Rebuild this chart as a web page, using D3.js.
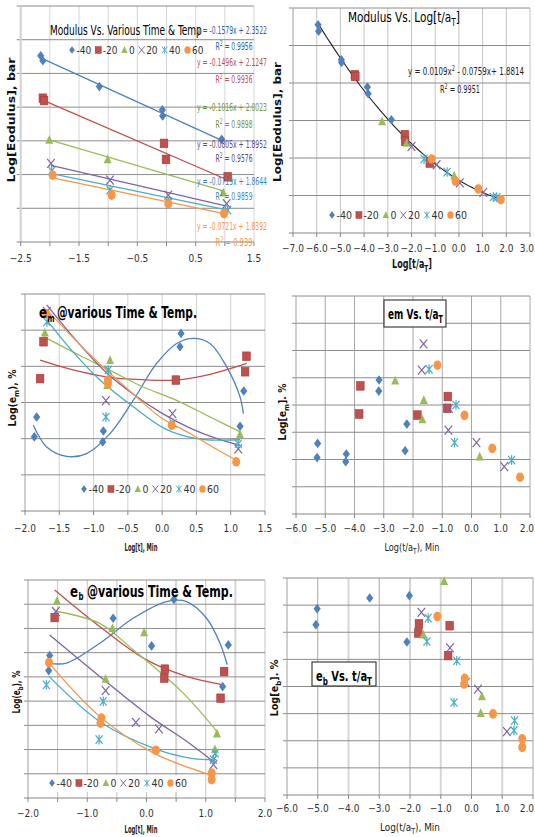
<!DOCTYPE html>
<html><head><meta charset="utf-8">
<script src="https://cdn.jsdelivr.net/npm/d3@7"></script>
<style>body{margin:0;background:#fff} svg{display:block}</style>
</head><body>
<svg id="c" width="535" height="837"></svg>
<script>
const FONT = "'Liberation Sans Narrow','Arial Narrow','DejaVu Sans Condensed',sans-serif";
const seriesLabels = ["-40","-20","0","20","40","60"];
const seriesColors = ["#4F81BD","#C0504D","#9BBB59","#8064A2","#4BACC6","#F79646"];
const seriesMarkers = ["diamond","square","triangle","x","star","circle"];
const eqColors = ["#2F5F9F","#C0504D","#76923C","#604A7B","#3F7FC4","#F79646"];

// Panel 1: Log[Modulus] vs Log[t] per temperature
const modT_m40 = [[-2.157,2.705],[-2.12,2.675],[-1.151,2.522],[-0.071,2.384],[-0.066,2.348],[0.946,2.209]];
const modT_m20 = [[-2.12,2.453],[-2.10,2.439],[-0.043,2.185],[-0.009,2.09],[1.049,1.987]];
const modT_0   = [[-2.009,2.205],[-1.009,2.09],[0.974,1.892]];
const modT_20  = [[-1.98,2.066],[-0.969,1.967],[0.031,1.878],[1.031,1.828]];
const modT_40  = [[-1.969,2.022],[-0.969,1.908],[0.031,1.838],[1.049,1.789]];
const modT_60  = [[-1.951,1.997],[-0.94,1.878],[0.031,1.828],[0.986,1.769]];
const linSlopes = [-0.1579,-0.1496,-0.1016,-0.0805,-0.0719,-0.0721];
const linIntercepts = [2.3522,2.1247,2.0023,1.8952,1.8644,1.8392];
const linR2 = ["0.9956","0.9936","0.9898","0.9576","0.9859","0.939"];

// Panel 2: Log[Modulus] vs Log[t/aT]
const modS_m40 = [[-5.94,2.711],[-5.92,2.676],[-4.96,2.524],[-4.95,2.51],[-3.86,2.379],[-3.83,2.343],[-2.85,2.204]];
const modS_m20 = [[-4.39,2.444],[-4.37,2.435],[-2.28,2.124],[-2.27,2.089],[-1.23,1.973]];
const modS_0   = [[-3.24,2.195],[-2.2,2.08],[-0.2,1.906]];
const modS_20  = [[-2.0,2.062],[-0.94,1.964],[0.04,1.867],[1.03,1.817]];
const modS_40  = [[-1.47,1.995],[-0.5,1.925],[1.45,1.792],[1.6,1.79]];
const modS_60  = [[-1.15,1.995],[-0.14,1.876],[0.82,1.835],[1.77,1.778]];
const quadCoef = [0.0109,-0.0759,1.8814];

// Panel 3: Log(em) vs Log[t] (y in grid units)
const emT_m40 = [[-1.864,2.05],[-1.83,2.60],[-0.857,2.21],[-0.867,1.91],[0.26,4.54],[0.275,4.91],[1.136,2.34],[1.19,3.32]];
const emT_m20 = [[-1.78,3.66],[-1.73,4.68],[0.20,3.62],[1.23,4.28],[1.21,3.85]];
const emT_0   = [[-1.71,4.93],[-0.76,4.17],[-0.80,3.48],[1.135,2.12]];
const emT_20  = [[-1.68,5.51],[-0.82,3.05],[0.15,2.69],[1.11,1.72]];
const emT_40  = [[-1.68,5.23],[-0.82,2.6],[-0.785,3.9],[0.16,2.42],[1.11,1.86]];
const emT_60  = [[-1.69,5.46],[-0.79,3.62],[-0.79,3.52],[0.14,2.37],[1.08,1.36]];
const emTrend_m40 = [[-1.878,2.371],[-1.684,1.771],[-1.392,1.512],[-1.101,1.586],[-0.760,2.14],[-0.420,3.064],[-0.080,4.08],[0.212,4.633],[0.455,4.772],[0.698,4.633],[0.941,3.987],[1.136,3.156],[1.184,2.694]];
const emTrend_m20 = [[-1.78,4.17],[-1.3,3.9],[-0.81,3.71],[-0.3,3.63],[0.2,3.62],[0.7,3.78],[1.233,4.08]];
const emTrend_0   = [[-1.73,4.82],[-1.2,4.3],[-0.76,3.89],[-0.3,3.45],[0.21,3.06],[0.7,2.6],[1.136,2.19]];
const emTrend_20  = [[-1.684,5.70],[-1.2,4.6],[-0.8,3.8],[-0.4,3.2],[0.0,2.7],[0.4,2.3],[0.8,2.0],[1.136,1.82]];
const emTrend_40  = [[-1.68,5.28],[-1.3,4.4],[-0.906,3.62],[-0.42,2.88],[0.066,2.25],[0.55,1.99],[1.136,1.97]];
const emTrend_60  = [[-1.68,5.56],[-1.2,4.6],[-0.81,3.89],[-0.4,3.2],[-0.03,2.6],[0.4,2.15],[0.8,1.7],[1.087,1.40]];

// Panel 4: Log[em] vs Log(t/aT)
const emS_m40 = [[-5.26,2.59],[-5.28,2.07],[-4.28,2.2],[-4.30,1.92],[-3.16,4.92],[-3.17,4.51],[-2.21,3.30],[-2.27,2.32]];
const emS_m20 = [[-3.80,4.70],[-3.84,3.67],[-1.85,3.63],[-0.81,4.31],[-0.83,3.88]];
const emS_0   = [[-2.61,4.89],[-1.63,4.18],[-1.68,3.47],[0.28,2.10]];
const emS_20  = [[-1.64,6.24],[-1.70,5.28],[-0.77,3.88],[-0.79,3.08],[0.17,2.62],[1.12,1.74]];
const emS_40  = [[-1.45,5.31],[-0.53,4.0],[-0.58,2.62],[1.37,1.98]];
const emS_60  = [[-1.165,5.46],[-0.24,3.62],[0.71,2.41],[1.66,1.35]];

// Panel 5: Log(eb) vs Log[t]
const ebT_m40 = [[-1.634,5.88],[-1.65,5.26],[-0.563,7.42],[0.085,6.28],[0.462,8.20],[1.285,4.60],[1.38,6.32]];
const ebT_m20 = [[-1.55,7.45],[0.31,5.32],[0.30,4.95],[1.31,5.22],[1.25,4.12]];
const ebT_0   = [[-1.51,8.13],[-0.575,7.01],[-0.04,6.83],[-0.69,4.91],[1.19,2.65],[1.155,2.0]];
const ebT_20  = [[-1.53,7.70],[-0.69,4.43],[-0.18,3.12],[0.21,2.85],[1.13,1.38]];
const ebT_40  = [[-1.69,4.67],[-0.73,3.99],[-0.80,2.41],[1.13,1.58],[1.16,1.85]];
const ebT_60  = [[-1.645,5.59],[-0.76,3.30],[-0.777,3.09],[0.16,1.97],[1.10,1.03],[1.10,0.76]];
const ebTrend_m40 = [[-1.66,5.57],[-1.352,5.57],[-0.789,6.39],[-0.225,7.42],[0.338,8.11],[0.676,8.11],[1.014,7.42],[1.24,6.39],[1.363,5.50]];
const ebTrend_m20 = [[-1.55,8.59],[-0.79,7.08],[0.0,5.70],[0.676,5.02],[1.296,4.67]];
const ebTrend_0   = [[-1.51,7.70],[-0.79,7.21],[-0.225,6.12],[0.62,4.33],[1.21,2.68]];
const ebTrend_20  = [[-1.634,6.73],[-0.79,5.02],[0.056,3.37],[0.676,2.34],[1.155,1.45]];
const ebTrend_40  = [[-1.645,5.02],[-0.79,3.16],[0.113,2.06],[0.73,1.65],[1.18,1.58]];
const ebTrend_60  = [[-1.645,5.57],[-0.79,3.37],[0.113,1.86],[0.73,1.24],[1.07,0.96]];

// Panel 6: Log[eb] vs Log(t/aT)
const ebS_m40 = [[-5.02,6.87],[-5.06,6.28],[-3.31,7.26],[-2.02,7.35],[-2.10,5.64]];
const ebS_m20 = [[-1.71,6.31],[-1.73,5.97],[-0.71,6.24],[-0.76,5.14]];
const ebS_0   = [[-0.89,7.88],[-1.57,5.91],[0.34,3.63],[0.30,3.02]];
const ebS_20  = [[-1.63,6.73],[-0.70,5.42],[-0.18,4.15],[0.21,3.90],[1.15,2.34]];
const ebS_40  = [[-1.41,6.52],[-1.45,5.66],[-0.48,4.95],[-0.57,3.41],[1.40,2.74],[1.38,2.38]];
const ebS_60  = [[-1.11,6.58],[-0.22,4.30],[-0.24,4.09],[0.70,2.99],[1.65,2.07],[1.65,1.76]];

const svg = d3.select("#c");
svg.append("rect").attr("width",535).attr("height",837).attr("fill","#fff");

function drawMarker(g, type, cx, cy, color, k) {
  const s = g.append("g").attr("transform", `translate(${cx},${cy}) scale(${k})`);
  if (type === "diamond") s.append("path").attr("d","M0,-4.8L3.6,0L0,4.8L-3.6,0Z").attr("fill",color);
  else if (type === "square") s.append("rect").attr("x",-3.8).attr("y",-4.3).attr("width",7.6).attr("height",8.6).attr("fill",color).attr("stroke","#a33a37").attr("stroke-width",0.6);
  else if (type === "triangle") s.append("path").attr("d","M0,-5L4,3.8L-4,3.8Z").attr("fill",color);
  else if (type === "x") s.append("path").attr("d","M-3.8,-4.5L3.8,4.5M-3.8,4.5L3.8,-4.5").attr("stroke",color).attr("stroke-width",1.2).attr("fill","none");
  else if (type === "star") s.append("path").attr("d","M-3.5,-4.2L3.5,4.2M-3.5,4.2L3.5,-4.2M0,-4.8L0,4.8").attr("stroke",color).attr("stroke-width",1.2).attr("fill","none");
  else s.append("ellipse").attr("rx",4).attr("ry",4.8).attr("fill",color);
}

// text with optional sub/superscript parts, horizontally scaled to a target width
function rich(g, x, y, parts, o) {
  const t = g.append("text").attr("x",x).attr("y",y)
    .attr("font-family",FONT).attr("font-size",o.size)
    .attr("font-weight",o.weight||"normal").attr("fill",o.fill||"#000")
    .attr("text-anchor",o.anchor||"start");
  let shift = 0;
  parts.forEach(p => {
    const ts = t.append("tspan").text(p.t);
    const want = p.sub ? o.size*0.3 : (p.sup ? -o.size*0.38 : 0);
    if (want !== shift) { ts.attr("dy", want - shift); shift = want; }
    if (p.sub || p.sup) ts.attr("font-size", o.size*0.72);
    if (p.w) ts.attr("font-weight", p.w);
  });
  let tf = o.rotate ? `rotate(-90,${x},${y})` : "";
  if (o.len) {
    const w = t.node().getComputedTextLength();
    const sx = o.len / w;
    tf += ` translate(${x},${y}) scale(${sx},1) translate(${-x},${-y})`;
  }
  if (tf) t.attr("transform", tf);
  return t;
}

function legend(g, x0, yc, size, k) {
  let cx = x0;
  seriesLabels.forEach((lab,i) => {
    drawMarker(g, seriesMarkers[i], cx, yc, seriesColors[i], k);
    const t = g.append("text").attr("x",cx+4.5).attr("y",yc+3.5).attr("font-size",size)
      .attr("font-family",FONT).attr("fill","#333").text(lab);
    cx = cx + 4.5 + t.node().getComputedTextLength() + 7;
  });
}

function panel(c) {
  const g = svg.append("g");
  const x = d3.scaleLinear().domain(c.xd).range([c.left, c.right]);
  const y = d3.scaleLinear().domain(c.yd).range([c.bottom, c.top]);
  const nx = Math.round((c.xd[1]-c.xd[0])/c.xStep);
  const xt = d3.range(nx+1).map(i => +(c.xd[0]+i*c.xStep).toFixed(4));
  const ny = Math.round((c.yd[1]-c.yd[0])/c.yStep);
  const yt = d3.range(ny+1).map(i => +(c.yd[0]+i*c.yStep).toFixed(4));
  xt.forEach(v => {
    if (v === c.xd[0]) return;
    const light = c.vLight && c.vLight.includes(v);
    g.append("line").attr("x1",x(v)).attr("x2",x(v)).attr("y1",y(c.yd[0])).attr("y2",c.top)
      .attr("stroke", light ? "#d6d6d6" : c.vColor).attr("stroke-width", light ? 2 : 1);
  });
  yt.forEach(v => {
    if (v === c.yd[0]) return;
    g.append("line").attr("x1",c.left-4).attr("x2",c.right).attr("y1",y(v)).attr("y2",y(v))
      .attr("stroke",c.hColor).attr("stroke-width",1);
  });
  g.append("line").attr("x1",c.left).attr("x2",c.left).attr("y1",c.top).attr("y2",c.bottom+0.5)
    .attr("stroke",c.axColor||"#a0a0a0").attr("stroke-width",c.axW||1);
  g.append("line").attr("x1",c.left-4).attr("x2",c.right).attr("y1",c.bottom).attr("y2",c.bottom)
    .attr("stroke","#868686").attr("stroke-width",1);
  xt.forEach(v => {
    g.append("line").attr("x1",x(v)).attr("x2",x(v)).attr("y1",c.bottom).attr("y2",c.bottom+4)
      .attr("stroke","#868686");
    if (c.labelIf(v)) {
      const t = g.append("text").attr("x",x(v)).attr("y",c.labY).attr("text-anchor","middle")
        .attr("font-family",FONT).attr("font-size",10).attr("fill","#333")
        .text(d3.format(".1f")(v));
      const w = t.node().getComputedTextLength();
      if (x(v) + w/2 > 534) t.attr("text-anchor","end").attr("x",534);
    }
  });
  return {g,x,y};
}

function plotSeries(p, sets) {
  sets.forEach((pts,i) => pts.forEach(d => drawMarker(p.g, seriesMarkers[i], p.x(d[0]), p.y(d[1]), seriesColors[i], 1)));
}
function plotCurves(p, sets) {
  const line = d3.line().x(d=>p.x(d[0])).y(d=>p.y(d[1])).curve(d3.curveCatmullRom.alpha(0.5));
  sets.forEach((pts,i) => p.g.append("path").attr("d",line(pts)).attr("fill","none")
    .attr("stroke",seriesColors[i]).attr("stroke-width",1.3));
}
const isMult = (v,s) => Math.abs(v/s - Math.round(v/s)) < 1e-6;

// ---------- Panel 1 ----------
const p1 = panel({left:20.7,right:254,top:6,bottom:242,xd:[-2.5,1.5],yd:[1.6,3.0],xStep:0.5,yStep:0.2,
  vColor:"#d4d4d4",hColor:"#8c8c8c",axColor:"#d0d0d0",axW:2,labY:262,
  labelIf:v=>isMult(v+0.5,1)});
const p1sets = [modT_m40,modT_m20,modT_0,modT_20,modT_40,modT_60];
p1sets.forEach((pts,i)=>{
  const xs = d3.extent(pts,d=>d[0]);
  p1.g.append("path").attr("d",d3.line()(xs.map(v=>[p1.x(v),p1.y(linSlopes[i]*v+linIntercepts[i])])))
    .attr("stroke",seriesColors[i]).attr("stroke-width",1.3).attr("fill","none");
});
plotSeries(p1, p1sets);
rich(p1.g, 50, 35, [{t:"Modulus Vs. Various Time & Temp"}], {size:14, len:152});
legend(p1.g, 72, 50, 10, 0.8);
const eqY = [31,63,108,145,182,227];
const r2Y = [47,80,125,159,197,243];
linSlopes.forEach((s,i)=>{
  const eq = `y = ${s.toFixed(4)}x + ${linIntercepts[i].toFixed(4)}`;
  rich(p1.g, 232, eqY[i]+3.5, [{t:eq}], {size:11, anchor:"middle", fill:eqColors[i], len:70});
  rich(p1.g, 234, r2Y[i]+3.5, [{t:"R"},{t:"2",sup:true},{t:" = "+linR2[i]}], {size:11, anchor:"middle", fill:eqColors[i], len:37});
});
rich(p1.g, 15, 120, [{t:"Log[Eodulus], bar"}], {size:10, weight:"bold", anchor:"middle", rotate:true, len:125, fill:"#111"});

// ---------- Panel 2 ----------
const p2 = panel({left:293,right:530,top:8,bottom:233,xd:[-7,3],yd:[1.6,2.8],xStep:1,yStep:0.2,
  vColor:"#c4c4c4",hColor:"#8c8c8c",axColor:"#a0a0a0",labY:252,labelIf:v=>true});
const qx = d3.range(0,61).map(i=>-5.94+i*(1.8+5.94)/60);
p2.g.append("path").attr("d",d3.line()(qx.map(v=>[p2.x(v),p2.y(quadCoef[0]*v*v+quadCoef[1]*v+quadCoef[2])])))
  .attr("stroke","#222").attr("stroke-width",1.1).attr("fill","none");
plotSeries(p2, [modS_m40,modS_m20,modS_0,modS_20,modS_40,modS_60]);
rich(p2.g, 348, 22, [{t:"Modulus Vs. Log[t/a"},{t:"T",sub:true},{t:"]"}], {size:14, len:112});
rich(p2.g, 466, 75, [{t:"y = 0.0109x"},{t:"2",sup:true},{t:" - 0.0759x+ 1.8814"}], {size:11, anchor:"middle", fill:"#222", len:116});
rich(p2.g, 460, 93, [{t:"R"},{t:"2",sup:true},{t:" = 0.9951"}], {size:11, anchor:"middle", fill:"#222", len:40});
legend(p2.g, 332, 215, 10.5, 0.8);
rich(p2.g, 392, 268, [{t:"Log[t/a"},{t:"T",sub:true},{t:"]"}], {size:13, weight:"bold", fill:"#111", len:40});
rich(p2.g, 281, 122, [{t:"Log[Eodulus], bar"}], {size:10, weight:"bold", anchor:"middle", rotate:true, len:120, fill:"#111"});

// ---------- Panel 3 ----------
const p3 = panel({left:25,right:265,top:294,bottom:511,xd:[-2,1.5],yd:[0,6],xStep:0.5,yStep:1,
  vColor:"#d0d0d0",hColor:"#8c8c8c",axColor:"#a0a0a0",labY:532,labelIf:v=>true});
plotCurves(p3, [emTrend_m40,emTrend_m20,emTrend_0,emTrend_20,emTrend_40,emTrend_60]);
plotSeries(p3, [emT_m40,emT_m20,emT_0,emT_20,emT_40,emT_60]);
rich(p3.g, 39, 318, [{t:"e"}], {size:16, weight:"bold", len:8});
rich(p3.g, 47.5, 322, [{t:"m"}], {size:11, weight:"bold", len:7});
rich(p3.g, 57, 318, [{t:"@various  Time & Temp."}], {size:15, weight:"bold", len:140});
legend(p3.g, 84, 489, 10.5, 0.8);
rich(p3.g, 141, 551, [{t:"Log[t], Min"}], {size:11, weight:"bold", anchor:"middle", fill:"#222", len:33});
rich(p3.g, 16, 398, [{t:"Log(e",w:"bold"},{t:"m",sub:true},{t:"),  %"}], {size:10, anchor:"middle", rotate:true, len:57, fill:"#111", weight:"bold"});

// ---------- Panel 4 ----------
const p4 = panel({left:296,right:530,top:296,bottom:514,xd:[-6,2],yd:[0,8],xStep:1,yStep:1,
  vColor:"#a8a8a8",hColor:"#8c8c8c",axColor:"#a0a0a0",labY:532,labelIf:v=>true});
p4.g.append("rect").attr("x",384).attr("y",300).attr("width",62).attr("height",27)
  .attr("fill","#fff").attr("stroke","#404040").attr("stroke-width",1.2);
rich(p4.g, 388, 319, [{t:"em Vs. t/a"},{t:"T",sub:true}], {size:14, weight:"bold", len:55});
plotSeries(p4, [emS_m40,emS_m20,emS_0,emS_20,emS_40,emS_60]);
rich(p4.g, 412, 551, [{t:"Log(t/a"},{t:"T",sub:true},{t:"), Min"}], {size:11, anchor:"middle", fill:"#222", len:55});
rich(p4.g, 286, 412, [{t:"Log[e"},{t:"m",sub:true},{t:"]. %"}], {size:10, weight:"bold", anchor:"middle", rotate:true, len:57, fill:"#111"});

// ---------- Panel 5 ----------
const p5 = panel({left:28,right:265,top:580,bottom:798,xd:[-2,2],yd:[0,9],xStep:0.5,yStep:1,
  vColor:"#c4c4c4",hColor:"#8c8c8c",axColor:"#a0a0a0",labY:817,labelIf:v=>isMult(v,1),vLight:[0.5,1.5]});
plotCurves(p5, [ebTrend_m40,ebTrend_m20,ebTrend_0,ebTrend_20,ebTrend_40,ebTrend_60]);
plotSeries(p5, [ebT_m40,ebT_m20,ebT_0,ebT_20,ebT_40,ebT_60]);
p5.g.append("rect").attr("x",43).attr("y",775).attr("width",144).attr("height",17).attr("fill","#fff");
legend(p5.g, 52, 783, 10.5, 0.8);
rich(p5.g, 70, 597, [{t:"e"}], {size:16, weight:"bold", len:8});
rich(p5.g, 78.5, 600, [{t:"b"}], {size:11, weight:"bold", len:5});
rich(p5.g, 87, 597, [{t:"@various  Time & Temp."}], {size:15, weight:"bold", len:146});
rich(p5.g, 141, 833, [{t:"Log[t], Min"}], {size:11, weight:"bold", anchor:"middle", fill:"#222", len:33});
rich(p5.g, 20, 692, [{t:"Log(e"},{t:"b",sub:true},{t:"), %"}], {size:10, weight:"bold", anchor:"middle", rotate:true, len:43, fill:"#111"});

// ---------- Panel 6 ----------
const p6 = panel({left:287,right:533,top:578,bottom:795,xd:[-6,2],yd:[0,8],xStep:1,yStep:1,
  vColor:"#a8a8a8",hColor:"#8c8c8c",axColor:"#a0a0a0",labY:812,labelIf:v=>true,vLight:[-4,-1,1]});
plotSeries(p6, [ebS_m40,ebS_m20,ebS_0,ebS_20,ebS_40,ebS_60]);
p6.g.append("rect").attr("x",312).attr("y",662).attr("width",64).attr("height",24)
  .attr("fill","#fff").attr("stroke","#404040").attr("stroke-width",1.2);
rich(p6.g, 316, 681, [{t:"e"},{t:"b",sub:true},{t:" Vs. t/a"},{t:"T",sub:true}], {size:14, weight:"bold", len:56});
rich(p6.g, 410, 831, [{t:"Log(t/a"},{t:"T",sub:true},{t:"), Min"}], {size:11, anchor:"middle", fill:"#222", len:60});
rich(p6.g, 278, 688, [{t:"Log[e"},{t:"b",sub:true},{t:"]. %"}], {size:10, weight:"bold", anchor:"middle", rotate:true, len:57, fill:"#111"});
</script>
</body></html>
